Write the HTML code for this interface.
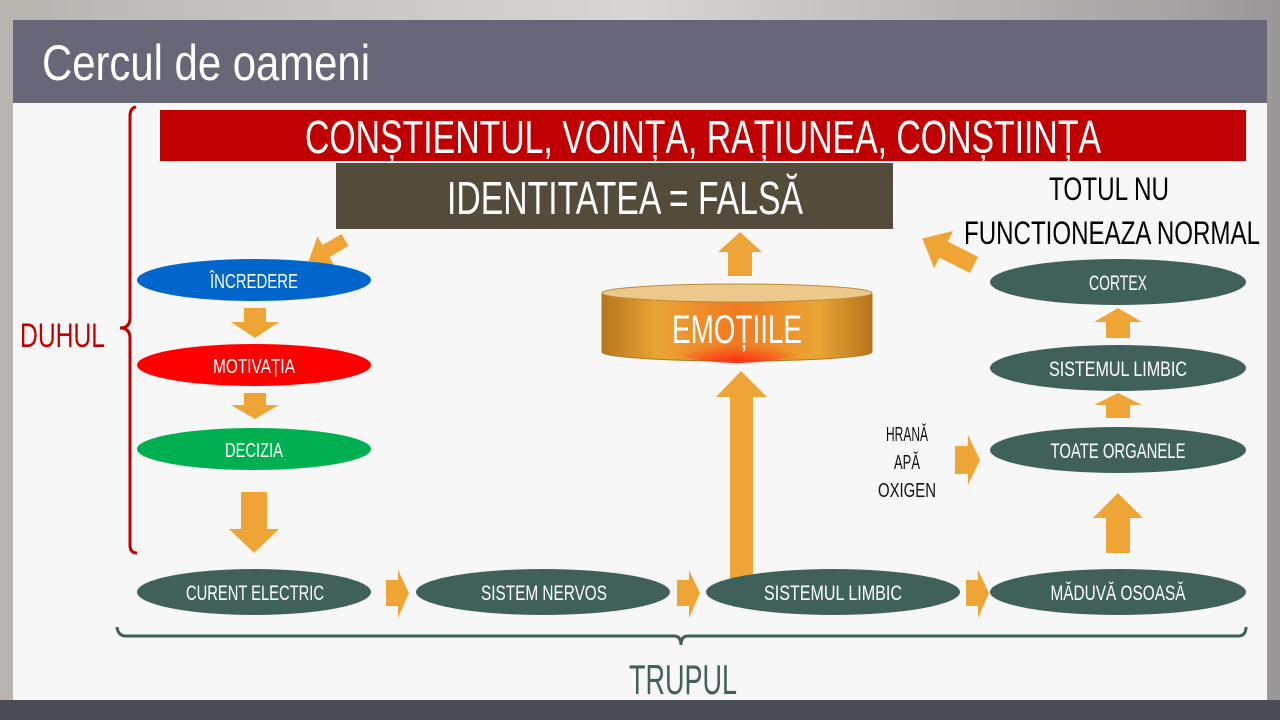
<!DOCTYPE html>
<html><head><meta charset="utf-8"><style>
html,body{margin:0;padding:0;width:1280px;height:720px;overflow:hidden;background:#8a8a8e}
svg{display:block}
text{font-family:"Liberation Sans",sans-serif}
</style></head><body>
<svg width="1280" height="720" viewBox="0 0 1280 720" xmlns="http://www.w3.org/2000/svg">
<defs>
<linearGradient id="bg" x1="0" y1="0" x2="1" y2="0">
<stop offset="0" stop-color="#b8b4b0"/><stop offset="0.5" stop-color="#d8d6d4"/><stop offset="1" stop-color="#9a9898"/>
</linearGradient>
<linearGradient id="cyl" x1="0" y1="0" x2="1" y2="0">
<stop offset="0" stop-color="#b5761c"/><stop offset="0.2" stop-color="#eaa535"/><stop offset="0.5" stop-color="#f07a20"/><stop offset="0.8" stop-color="#eaa535"/><stop offset="1" stop-color="#b5761c"/>
</linearGradient>
<radialGradient id="cylr" cx="0.5" cy="1" r="0.5">
<stop offset="0" stop-color="#ff2a10"/><stop offset="1" stop-color="#ff2a10" stop-opacity="0"/>
</radialGradient>
</defs>
<rect width="1280" height="720" fill="url(#bg)"/>
<rect x="0" y="700" width="1280" height="20" fill="#4a4c55"/>
<rect x="13" y="103" width="1254" height="597" fill="#f7f7f7"/>
<rect x="13" y="20" width="1254" height="83" fill="#676779"/>
<text x="42" y="80" font-size="50" fill="#fff" textLength="328" lengthAdjust="spacingAndGlyphs">Cercul de oameni</text>

<rect x="160" y="110" width="1086" height="51" fill="#c00000"/>
<text x="703" y="153" font-size="46" fill="#fff" text-anchor="middle" textLength="796" lengthAdjust="spacingAndGlyphs">CONȘTIENTUL, VOINȚA, RAȚIUNEA, CONȘTIINȚA</text>
<rect x="336" y="163" width="557" height="66" fill="#544b3a"/>
<text x="625" y="214" font-size="46" fill="#fff" text-anchor="middle" textLength="356" lengthAdjust="spacingAndGlyphs">IDENTITATEA = FALSĂ</text>
<text x="1109" y="200" font-size="32" fill="#000" text-anchor="middle" textLength="120" lengthAdjust="spacingAndGlyphs">TOTUL NU</text>
<text x="1112" y="244" font-size="32" fill="#000" text-anchor="middle" textLength="296" lengthAdjust="spacingAndGlyphs">FUNCTIONEAZA NORMAL</text>

<!-- red brace -->
<path d="M136,107 Q130,108 130,116 L130,318 Q130,328 120,328 Q130,328 130,338 L130,545 Q130,553 137,553" fill="none" stroke="#c00000" stroke-width="3"/>
<text x="20" y="347" font-size="34" fill="#c00000" textLength="85" lengthAdjust="spacingAndGlyphs">DUHUL</text>

<g fill="#eea535">
<!-- diagonal arrow left -->
<polygon points="0,-7 22,-7 22,-17 42,0 22,17 22,7 0,7" transform="translate(345,240) rotate(150)"/>
<!-- left down arrows -->
<polygon points="244,308 266,308 266,322 279,322 255,338 231,322 244,322"/>
<polygon points="244,393 266,393 266,405 279,405 255,419 231,405 244,405"/>
<polygon points="241,492 267,492 267,529 279,529 254,553 229,529 241,529"/>
<!-- bottom right arrows -->
<polygon points="386,580 398,580 398,570 409,593 398,618 398,606 386,606"/>
<polygon points="677,580 689,580 689,570 700,593 689,618 689,606 677,606"/>
<polygon points="966,580 978,580 978,570 989,593 978,618 978,606 966,606"/>
<!-- long up arrow -->
<polygon points="730,578 753,578 753,397 767,397 741,371 716,397 730,397"/>
<!-- arrow above cylinder -->
<polygon points="728,276 752,276 752,252 762,252 740,232 718,252 728,252"/>
<!-- diagonal right -->
<polygon points="0,-9 34,-9 34,-21 58,0 34,21 34,9 0,9" transform="translate(974,265) rotate(-153)"/>
<!-- right column up arrows -->
<polygon points="1106,338 1130,338 1130,322 1142,322 1118,308 1094,322 1106,322"/>
<polygon points="1106,418 1130,418 1130,405 1142,405 1118,393 1094,405 1106,405"/>
<polygon points="1106,553 1130,553 1130,518 1143,518 1118,493 1093,518 1106,518"/>
<!-- hrana arrow -->
<polygon points="955,446 968,446 968,435 980,460 968,485 968,474 955,474"/>
</g>

<!-- left ellipses -->
<ellipse cx="254" cy="280" rx="117" ry="21" fill="#0066cc"/>
<text x="254" y="288" font-size="20" fill="#fff" text-anchor="middle" textLength="88" lengthAdjust="spacingAndGlyphs">ÎNCREDERE</text>
<ellipse cx="254" cy="365" rx="117" ry="21" fill="#ff0000"/>
<text x="254" y="373" font-size="20" fill="#fff" text-anchor="middle" textLength="82" lengthAdjust="spacingAndGlyphs">MOTIVAȚIA</text>
<ellipse cx="254" cy="449" rx="117" ry="21" fill="#00b050"/>
<text x="254" y="457" font-size="20" fill="#fff" text-anchor="middle" textLength="58" lengthAdjust="spacingAndGlyphs">DECIZIA</text>

<g fill="#40615a">
<ellipse cx="254" cy="592" rx="117" ry="23"/>
<ellipse cx="543" cy="592" rx="127" ry="23"/>
<ellipse cx="833" cy="592" rx="127" ry="23"/>
<ellipse cx="1118" cy="592" rx="128" ry="23"/>
<ellipse cx="1118" cy="282" rx="128" ry="23"/>
<ellipse cx="1118" cy="368" rx="128" ry="23"/>
<ellipse cx="1118" cy="450" rx="128" ry="23"/>
</g>
<g font-size="21" fill="#fff" text-anchor="middle">
<text x="255" y="600" textLength="138" lengthAdjust="spacingAndGlyphs">CURENT ELECTRIC</text>
<text x="544" y="600" textLength="126" lengthAdjust="spacingAndGlyphs">SISTEM NERVOS</text>
<text x="833" y="600" textLength="138" lengthAdjust="spacingAndGlyphs">SISTEMUL LIMBIC</text>
<text x="1118" y="600" textLength="135" lengthAdjust="spacingAndGlyphs">MĂDUVĂ OSOASĂ</text>
<text x="1118" y="290" textLength="58" lengthAdjust="spacingAndGlyphs">CORTEX</text>
<text x="1118" y="376" textLength="138" lengthAdjust="spacingAndGlyphs">SISTEMUL LIMBIC</text>
<text x="1118" y="458" textLength="135" lengthAdjust="spacingAndGlyphs">TOATE ORGANELE</text>
</g>
<g font-size="20" fill="#111" text-anchor="middle">
<text x="907" y="441" textLength="42" lengthAdjust="spacingAndGlyphs">HRANĂ</text>
<text x="907" y="469" textLength="26" lengthAdjust="spacingAndGlyphs">APĂ</text>
<text x="907" y="497" textLength="58" lengthAdjust="spacingAndGlyphs">OXIGEN</text>
</g>

<!-- cylinder -->
<path d="M602,293 L602,352 A135,9 0 0 0 872,352 L872,293 Z" fill="url(#cyl)" stroke="#b07820" stroke-width="1"/>
<ellipse cx="737" cy="345" rx="70" ry="18" fill="url(#cylr)"/>
<ellipse cx="737" cy="293" rx="135" ry="9" fill="#ecc98a" stroke="#b88a3a" stroke-width="1"/>
<text x="737" y="343" font-size="40" fill="#fff" text-anchor="middle" textLength="130" lengthAdjust="spacingAndGlyphs">EMOȚIILE</text>

<!-- teal brace -->
<path d="M117,627 Q118,636 126,636 L674,636 Q681,636 681,645 Q681,636 688,636 L1238,636 Q1246,636 1246,627" fill="none" stroke="#40615a" stroke-width="3"/>
<text x="683" y="694" font-size="42" fill="#40615a" text-anchor="middle" textLength="108" lengthAdjust="spacingAndGlyphs">TRUPUL</text>
</svg>
</body></html>
